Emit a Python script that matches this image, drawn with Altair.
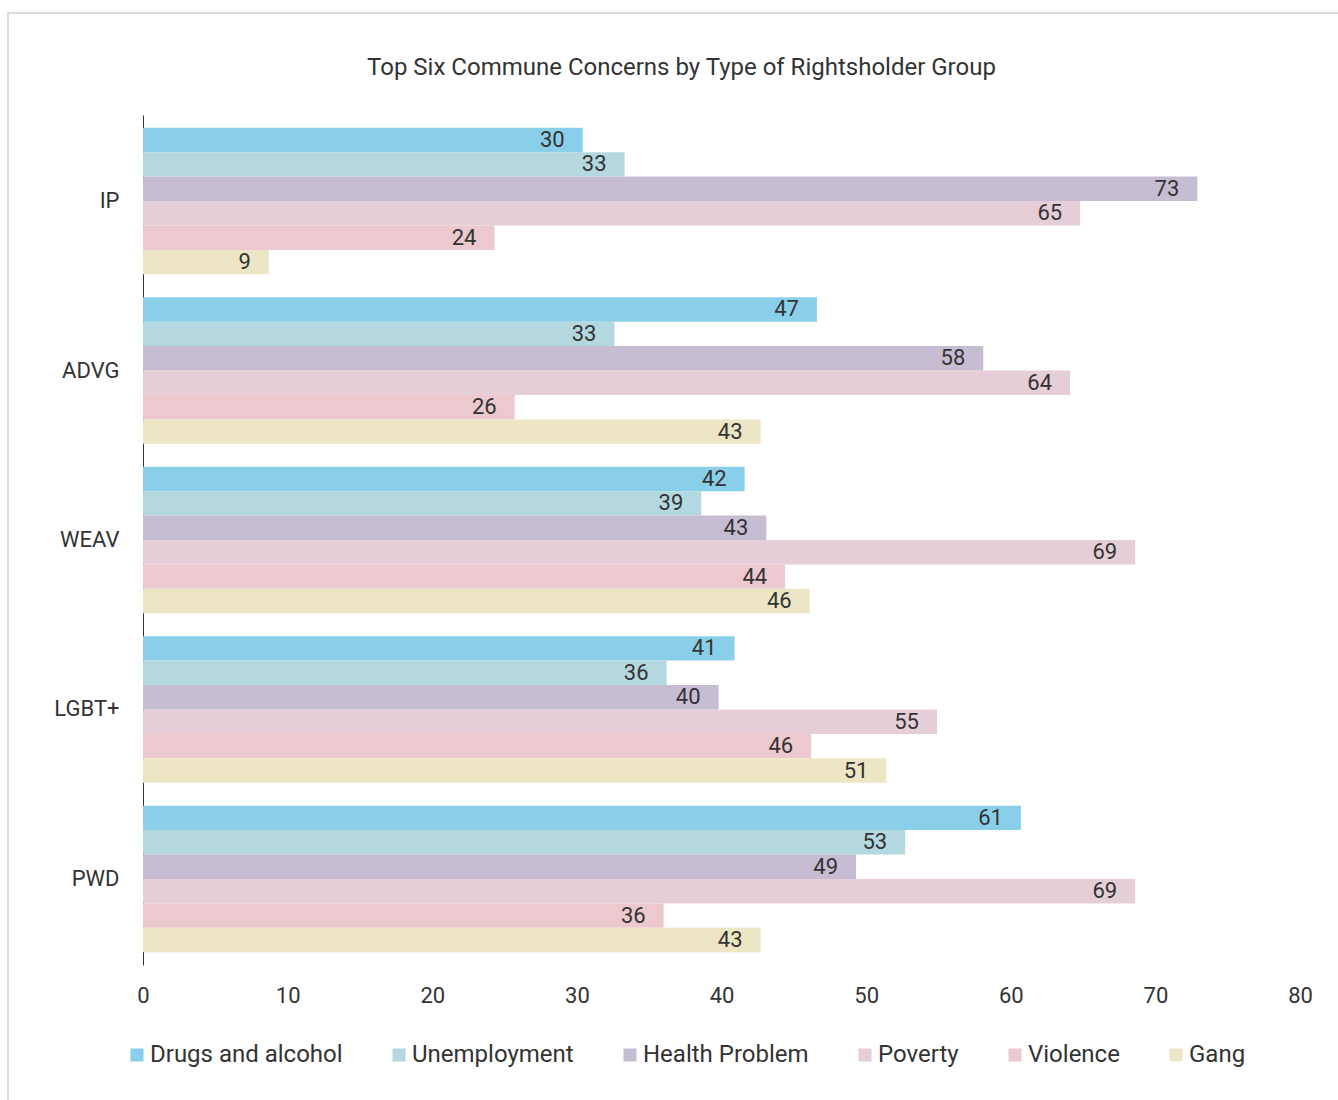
import altair as alt
import pandas as pd

groups = ["IP", "ADVG", "WEAV", "LGBT+", "PWD"]
concerns = ["Drugs and alcohol", "Unemployment", "Health Problem", "Poverty", "Violence", "Gang"]
colors = ["#8ACFE9", "#B3D8E0", "#C6BDD3", "#E6CED8", "#ECC8CF", "#ECE6C5"]

ip = [30.4, 33.3, 72.9, 64.8, 24.3, 8.7]
advg = [46.6, 32.6, 58.1, 64.1, 25.7, 42.7]
weav = [41.6, 38.6, 43.1, 68.6, 44.4, 46.1]
lgbt = [40.9, 36.2, 39.8, 54.9, 46.2, 51.4]
pwd = [60.7, 52.7, 49.3, 68.6, 36.0, 42.7]

rows = []
for g, vals in zip(groups, [ip, advg, weav, lgbt, pwd]):
    for c, v in zip(concerns, vals):
        rows.append({"group": g, "concern": c, "value": v})
df = pd.DataFrame(rows)

FONT = "Roboto"
TXT = "#333333"

base = alt.Chart(df).encode(
    y=alt.Y("group:N", sort=groups,
            scale=alt.Scale(paddingInner=0.135, paddingOuter=0.075),
            axis=alt.Axis(title=None, ticks=False, domain=True, domainColor=TXT,
                          labelFontSize=22, labelColor=TXT, labelPadding=24, labelFont=FONT)),
    yOffset=alt.YOffset("concern:N", sort=concerns, scale=alt.Scale(paddingInner=0, paddingOuter=0)),
    x=alt.X("value:Q", scale=alt.Scale(domain=[0, 80], nice=False),
            axis=alt.Axis(title=None, values=list(range(0, 81, 10)), grid=False, domain=False,
                          ticks=False, labelFontSize=22, labelColor=TXT, labelPadding=20,
                          labelFont=FONT, labelFlush=False)),
)

bars = base.mark_bar().encode(
    color=alt.Color("concern:N", sort=concerns,
                    scale=alt.Scale(domain=concerns, range=colors),
                    legend=alt.Legend(title=None, orient="none", direction="horizontal",
                                      legendX=-18, legendY=928, symbolType="square",
                                      symbolSize=170, symbolStrokeWidth=0,
                                      labelFontSize=24, labelColor=TXT, labelFont=FONT,
                                      columnPadding=44, labelOffset=1, labelLimit=300)),
)

labels = base.mark_text(align="right", baseline="middle", dx=-18, fontSize=22,
                        color=TXT, font=FONT).encode(
    text=alt.Text("value:Q", format=".0f"),
)

frame = alt.Chart(alt.Data(values=[{"a": 1}])).mark_rect(
    fill=None, stroke="#DADADA", strokeWidth=2
).encode(
    x=alt.value(-135), x2=alt.value(1210),
    y=alt.value(-102), y2=alt.value(1000),
)

chart = alt.layer(frame, bars, labels).properties(
    width=1157, height=850,
    background="white",
    padding={"left": 143, "top": 115, "right": 38, "bottom": 135},
    autosize=alt.AutoSizeParams(type="none"),
    title=alt.TitleParams("Top Six Commune Concerns by Type of Rightsholder Group",
                          fontSize=24, fontWeight="normal", color=TXT, font=FONT,
                          anchor="middle", dx=-40, dy=102, offset=34),
).configure_view(stroke=None)

chart.save("out.html", embed_options={"renderer": "svg", "actions": False})
